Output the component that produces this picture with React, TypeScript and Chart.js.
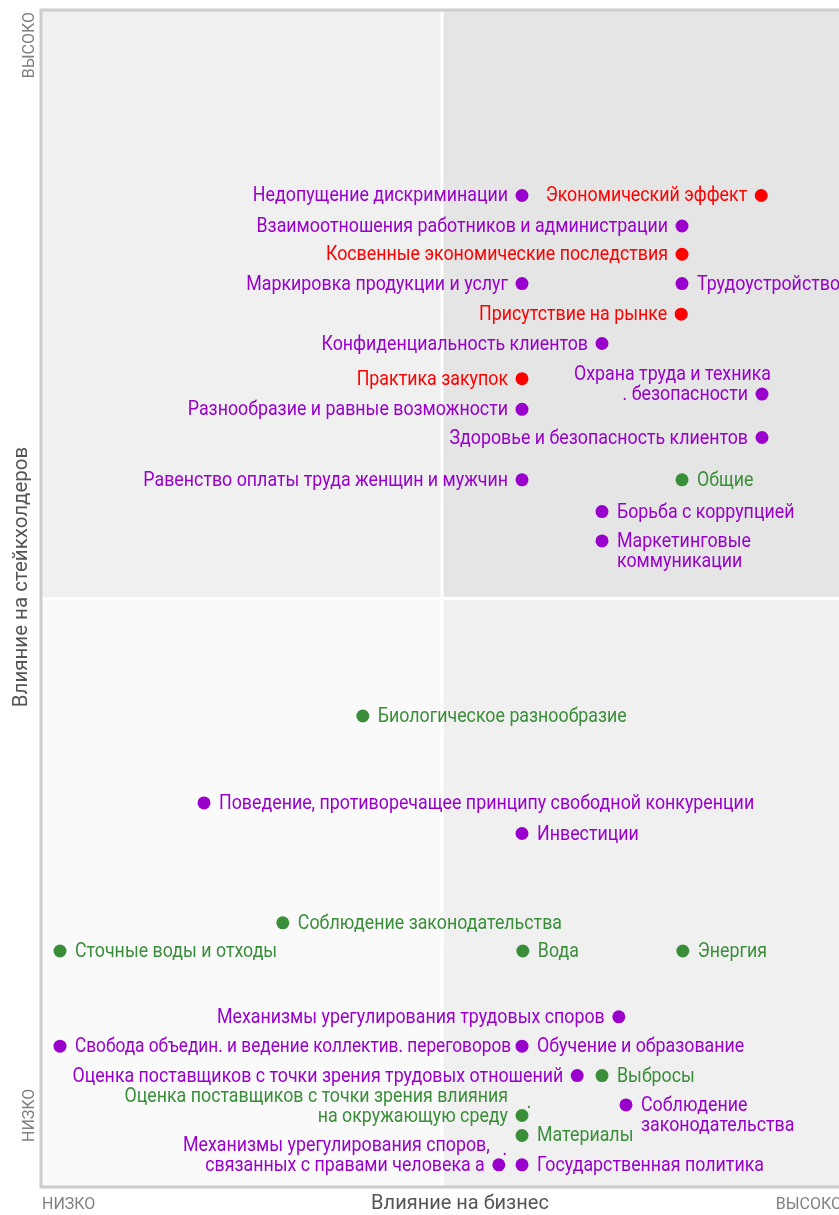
import React, { useEffect, useRef } from "react";
import { Chart, registerables } from "chart.js";

Chart.register(...registerables);

// ---------- DATA ----------
const purpleNames = [
  "Недопущение дискриминации",
  "Взаимоотношения работников и администрации",
  "Маркировка продукции и услуг",
  "Трудоустройство",
  "Конфиденциальность клиентов",
  "Охрана труда и техника\n. безопасности",
  "Разнообразие и равные возможности",
  "Здоровье и безопасность клиентов",
  "Равенство оплаты труда женщин и мужчин",
  "Борьба с коррупцией",
  "Маркетинговые\nкоммуникации",
  "Поведение, противоречащее принципу свободной конкуренции",
  "Инвестиции",
  "Механизмы урегулирования трудовых споров",
  "Свобода объедин. и ведение коллектив. переговоров",
  "Обучение и образование",
  "Оценка поставщиков с точки зрения трудовых отношений",
  "Соблюдение\nзаконодательства",
  "Механизмы урегулирования споров,\nсвязанных с правами человека а",
  "Государственная политика",
];
const purpleX = [60, 80, 60, 80, 70, 90, 60, 90, 60, 70, 70, 20.25, 60, 72.1, 2.25, 60, 66.9, 73, 57.1, 60];
const purpleY = [84.3, 81.7, 76.8, 76.8, 71.7, 67.4, 66.1, 63.7, 60.1, 57.4, 54.9, 32.6, 30, 14.4, 11.9, 11.9, 9.4, 6.9, 1.8, 1.8];
const purpleSides = ["L", "L", "L", "R", "L", "L", "L", "L", "L", "R", "R", "R", "R", "L", "R", "R", "L", "R", "L", "R"];

const redNames = [
  "Экономический эффект",
  "Косвенные экономические последствия",
  "Присутствие на рынке",
  "Практика закупок",
];
const redX = [89.9, 80, 79.9, 60];
const redY = [84.3, 79.3, 74.2, 68.7];
const redSides = ["L", "L", "L", "L"];

const greenNames = [
  "Общие",
  "Биологическое разнообразие",
  "Соблюдение законодательства",
  "Сточные воды и отходы",
  "Вода",
  "Энергия",
  "Выбросы",
  "Оценка поставщиков с точки зрения влияния\nна окружающую среду",
  "Материалы",
];
const greenX = [80, 40.1, 30.1, 2.25, 60.1, 80.1, 70, 60, 60];
const greenY = [60.1, 40, 22.4, 20, 20, 20, 9.4, 6, 4.3];
const greenSides = ["R", "R", "R", "R", "R", "R", "R", "L", "R"];

const xAxisTitle = "Влияние на бизнес";
const yAxisTitle = "Влияние на стейкхолдеров";
const lowLabel = "НИЗКО";
const highLabel = "ВЫСОКО";

// ---------- STYLE ----------
const PURPLE = "#9900cc";
const RED = "#ff0000";
const GREEN = "#3a8e3a";
const LABEL_FONT = "20px Roboto";
const LABEL_SX = 0.89;
const LINE_H = 20;

// per-label layout tweaks (style only)
const labelTweaks: Record<string, { lineDx?: number[]; dot?: [number, number]; sx?: number }> = {
  "Охрана труда и техника\n. безопасности": { lineDx: [23, 0] },
  "Механизмы урегулирования споров,\nсвязанных с правами человека а": { lineDx: [5, 0], dot: [6, -16] },
  "Оценка поставщиков с точки зрения влияния\nна окружающую среду": { dot: [7, -14] },
  "Свобода объедин. и ведение коллектив. переговоров": { sx: 0.862 },
};

function drawScaled(ctx: CanvasRenderingContext2D, text: string, x: number, y: number, align: CanvasTextAlign, sx: number) {
  ctx.save();
  ctx.translate(x, y);
  ctx.scale(sx, 1);
  ctx.textAlign = align;
  ctx.fillText(text, 0, 0);
  ctx.restore();
}

const quadrantPlugin = {
  id: "quadrants",
  beforeDatasetsDraw(chart: any) {
    const { ctx, chartArea, scales } = chart;
    const { left, right, top, bottom } = chartArea;
    const mx = scales.x.getPixelForValue(50);
    const my = scales.y.getPixelForValue(50);
    ctx.save();
    ctx.fillStyle = "#f0f0f0";
    ctx.fillRect(left, top, mx - left, my - top);
    ctx.fillStyle = "#e5e5e5";
    ctx.fillRect(mx, top, right - mx, my - top);
    ctx.fillStyle = "#fafafa";
    ctx.fillRect(left, my, mx - left, bottom - my);
    ctx.fillStyle = "#f0f0f0";
    ctx.fillRect(mx, my, right - mx, bottom - my);
    // white dividers
    ctx.fillStyle = "#ffffff";
    ctx.fillRect(mx - 1.5, top, 3, bottom - top);
    ctx.fillRect(left, my - 1.5, right - left, 3);
    // border
    ctx.strokeStyle = "#cccccc";
    ctx.lineWidth = 3;
    ctx.strokeRect(left - 1, top - 1, right - left + 2, bottom - top + 2);
    ctx.restore();
  },
  afterDatasetsDraw(chart: any) {
    const { ctx } = chart;
    const groups = [
      { names: purpleNames, sides: purpleSides, color: PURPLE },
      { names: redNames, sides: redSides, color: RED },
      { names: greenNames, sides: greenSides, color: GREEN },
    ];
    ctx.save();
    ctx.font = LABEL_FONT;
    ctx.textBaseline = "middle";
    groups.forEach((g, di) => {
      const meta = chart.getDatasetMeta(di);
      ctx.fillStyle = g.color;
      meta.data.forEach((el: any, i: number) => {
        const name = g.names[i];
        const lines = name.split("\n");
        const side = g.sides[i];
        const tw = labelTweaks[name] || {};
        const sx = tw.sx || LABEL_SX;
        const px = el.x;
        const py = el.y + 1;
        lines.forEach((line, li) => {
          const dx = tw.lineDx ? tw.lineDx[li] || 0 : 0;
          if (side === "L") {
            const y = py - (lines.length - 1 - li) * LINE_H;
            drawScaled(ctx, line, px - 14 + dx, y, "right", sx);
          } else {
            const y = py + li * LINE_H;
            drawScaled(ctx, line, px + 15 + dx, y, "left", sx);
          }
        });
        if (tw.dot) {
          drawScaled(ctx, ".", px + tw.dot[0], py + tw.dot[1], "center", sx);
        }
      });
    });
    ctx.restore();
  },
  afterDraw(chart: any) {
    const { ctx, chartArea } = chart;
    const { left, right, top, bottom } = chartArea;
    ctx.save();
    ctx.textBaseline = "middle";
    // left side
    ctx.fillStyle = "#808080";
    ctx.font = "16px Roboto";
    ctx.save();
    ctx.translate(left - 12, top);
    ctx.rotate(-Math.PI / 2);
    ctx.textAlign = "right";
    ctx.fillText(highLabel, -1, 0);
    ctx.restore();
    ctx.save();
    ctx.translate(left - 12, bottom);
    ctx.rotate(-Math.PI / 2);
    ctx.textAlign = "left";
    ctx.fillText(lowLabel, 44, 0);
    ctx.restore();
    ctx.fillStyle = "#555555";
    ctx.font = "20.5px Roboto";
    ctx.save();
    ctx.translate(left - 20, 577 - 8);
    ctx.rotate(-Math.PI / 2);
    ctx.textAlign = "center";
    ctx.fillText(yAxisTitle, 0, 0);
    ctx.restore();
    // bottom
    ctx.fillStyle = "#808080";
    ctx.font = "16px Roboto";
    ctx.textAlign = "left";
    ctx.fillText(lowLabel, left, bottom + 19);
    ctx.textAlign = "right";
    ctx.fillText(highLabel, right, bottom + 19);
    ctx.fillStyle = "#555555";
    ctx.font = "20px Roboto";
    ctx.textAlign = "center";
    ctx.fillText(xAxisTitle, (left + right) / 2 + 18, bottom + 18);
    ctx.restore();
  },
};

export default function App() {
  const ref = useRef<HTMLCanvasElement | null>(null);
  useEffect(() => {
    document.documentElement.style.overflow = "hidden";
    document.body.style.marginRight = "0px";
    const canvas = ref.current!;
    const mk = (xs: number[], ys: number[]) => xs.map((x, i) => ({ x, y: ys[i] }));
    const chart = new Chart(canvas, {
      type: "scatter",
      data: {
        datasets: [
          { data: mk(purpleX, purpleY), backgroundColor: PURPLE, borderColor: PURPLE, pointRadius: 6.5, pointBorderWidth: 0 },
          { data: mk(redX, redY), backgroundColor: RED, borderColor: RED, pointRadius: 6.5, pointBorderWidth: 0 },
          { data: mk(greenX, greenY), backgroundColor: GREEN, borderColor: GREEN, pointRadius: 6.5, pointBorderWidth: 0 },
        ],
      },
      options: {
        animation: false,
        responsive: false,
        devicePixelRatio: 1,
        layout: { autoPadding: false, padding: { left: 34, top: 3, right: 6, bottom: 29 } },
        plugins: { legend: { display: false }, tooltip: { enabled: false } },
        scales: {
          x: { type: "linear", min: 0, max: 100, display: false },
          y: { type: "linear", min: 0, max: 100, display: false },
        },
      },
      plugins: [quadrantPlugin],
    });
    return () => chart.destroy();
  }, []);
  return (
    <div style={{ width: 840, height: 1207, overflow: "visible" }}>
      <canvas ref={ref} width={840} height={1207} style={{ display: "block" }} />
    </div>
  );
}
